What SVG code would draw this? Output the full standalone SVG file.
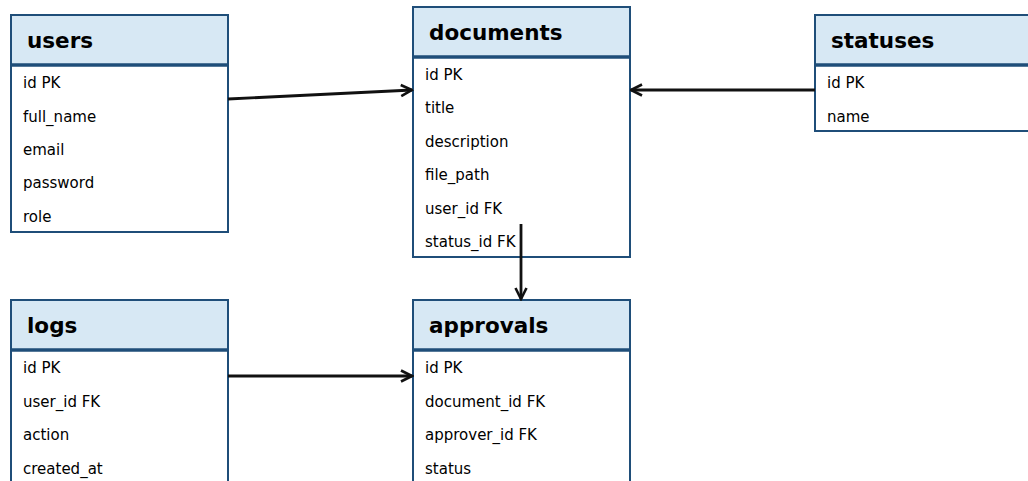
<svg xmlns="http://www.w3.org/2000/svg" width="1028" height="481" viewBox="0 0 1028 481">
<defs>
<style>
.box{fill:#ffffff;stroke:#1f4e79;stroke-width:2}
.hdr{fill:#d7e8f4;stroke:#1f4e79;stroke-width:2}
.sep{stroke:#1f4e79;stroke-width:3.5}
.title{font-family:"DejaVu Sans",sans-serif;font-weight:bold;font-size:21.5px;fill:#000}
.row{font-family:"DejaVu Sans",sans-serif;font-size:15px;fill:#000}
.conn{stroke:#111;stroke-width:2.8;fill:none}
</style>
<marker id="arr" viewBox="0 0 14 14" refX="12.5" refY="7" markerWidth="14" markerHeight="14" markerUnits="userSpaceOnUse" orient="auto">
<path d="M1.5,1.5 L12.5,7 L1.5,12.5" fill="none" stroke="#111" stroke-width="2.6"/>
</marker>
</defs>
<rect width="1028" height="481" fill="#ffffff"/>

<g id="users">
<rect class="box" x="11" y="15" width="217" height="217"/>
<rect class="hdr" x="11" y="15" width="217" height="50"/>
<line class="sep" x1="11" y1="65" x2="228" y2="65"/>
<text class="title" x="27" y="48">users</text>
<text class="row" x="23" y="88">id PK</text>
<text class="row" x="23" y="121.5">full_name</text>
<text class="row" x="23" y="155">email</text>
<text class="row" x="23" y="188">password</text>
<text class="row" x="23" y="221.5">role</text>
</g>

<g id="documents">
<rect class="box" x="413" y="7" width="217" height="250"/>
<rect class="hdr" x="413" y="7" width="217" height="50"/>
<line class="sep" x1="413" y1="57" x2="630" y2="57"/>
<text class="title" x="429" y="40">documents</text>
<text class="row" x="425" y="80">id PK</text>
<text class="row" x="425" y="113">title</text>
<text class="row" x="425" y="146.5">description</text>
<text class="row" x="425" y="180">file_path</text>
<text class="row" x="425" y="213.5">user_id FK</text>
<text class="row" x="425" y="247">status_id FK</text>
</g>

<g id="statuses">
<rect class="box" x="815" y="15" width="217" height="116"/>
<rect class="hdr" x="815" y="15" width="217" height="50"/>
<line class="sep" x1="815" y1="65" x2="1032" y2="65"/>
<text class="title" x="831" y="48">statuses</text>
<text class="row" x="827" y="88">id PK</text>
<text class="row" x="827" y="121.5">name</text>
</g>

<g id="logs">
<rect class="box" x="11" y="300" width="217" height="200"/>
<rect class="hdr" x="11" y="300" width="217" height="50"/>
<line class="sep" x1="11" y1="350" x2="228" y2="350"/>
<text class="title" x="27" y="333">logs</text>
<text class="row" x="23" y="373">id PK</text>
<text class="row" x="23" y="406.5">user_id FK</text>
<text class="row" x="23" y="440">action</text>
<text class="row" x="23" y="473.5">created_at</text>
</g>

<g id="approvals">
<rect class="box" x="413" y="300" width="217" height="200"/>
<rect class="hdr" x="413" y="300" width="217" height="50"/>
<line class="sep" x1="413" y1="350" x2="630" y2="350"/>
<text class="title" x="429" y="333">approvals</text>
<text class="row" x="425" y="373">id PK</text>
<text class="row" x="425" y="406.5">document_id FK</text>
<text class="row" x="425" y="440">approver_id FK</text>
<text class="row" x="425" y="473.5">status</text>
</g>

<g id="connectors">
<line class="conn" x1="228" y1="99" x2="412" y2="90" marker-end="url(#arr)"/>
<line class="conn" x1="815" y1="90" x2="631" y2="90" marker-end="url(#arr)"/>
<line class="conn" x1="521" y1="224" x2="521" y2="299" marker-end="url(#arr)"/>
<line class="conn" x1="228" y1="376" x2="412" y2="376" marker-end="url(#arr)"/>
</g>
</svg>
